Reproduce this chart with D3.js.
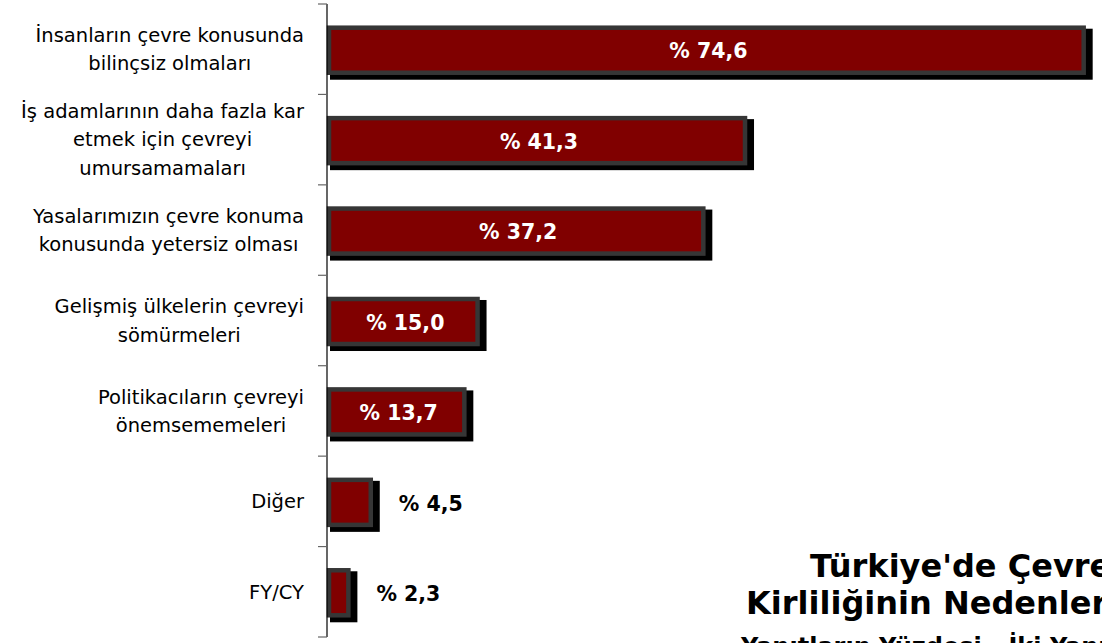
<!DOCTYPE html>
<html>
<head>
<meta charset="utf-8">
<script src="https://cdn.jsdelivr.net/npm/d3@7"></script>
<style>
  html, body { margin: 0; padding: 0; background: #fff; overflow: hidden; }
  svg { display: block; }
  .cat { font-family: Tahoma, "DejaVu Sans", sans-serif; font-size: 19.5px; fill: #000; }
  .val { font-family: Tahoma, "DejaVu Sans", sans-serif; font-weight: bold; font-size: 20.5px; }
  .title { font-family: Tahoma, "DejaVu Sans", sans-serif; font-weight: bold; fill: #000; }
</style>
</head>
<body>
<div id="chart"></div>
<script>
// Causes of environmental pollution in Turkey (% of answers)
const categories = [
  ['İnsanların çevre konusunda', 'bilinçsiz olmaları'],
  ['İş adamlarının daha fazla kar', 'etmek için çevreyi', 'umursamamaları'],
  ['Yasalarımızın çevre konuma', 'konusunda yetersiz olması'],
  ['Gelişmiş ülkelerin çevreyi', 'sömürmeleri'],
  ['Politikacıların çevreyi', 'önemsememeleri'],
  ['Diğer'],
  ['FY/CY']
];
const values = [74.6, 41.3, 37.2, 15.0, 13.7, 4.5, 2.3];
const valueLabels = ['% 74,6', '% 41,3', '% 37,2', '% 15,0', '% 13,7', '% 4,5', '% 2,3'];
const titleLines = ["Türkiye'de Çevre", 'Kirliliğinin Nedenleri', 'Yanıtların Yüzdesi - İki Yanıt'];

const width = 1102, height = 643;
const axisX = 327;

const svg = d3.select('#chart').append('svg')
  .attr('width', width)
  .attr('height', height);

const idx = d3.range(categories.length);

const x = d3.scaleLinear()
  .domain([0, 80])
  .range([axisX, axisX + 80 * 10.17]);

const y = d3.scaleBand()
  .domain(idx)
  .range([4, 637])
  .paddingInner(0.48)
  .paddingOuter(0.24);

const gap = (y.step() - y.bandwidth()) / 2;

// shadows
svg.append('g').selectAll('rect')
  .data(idx)
  .join('rect')
  .attr('x', d => x(0) + 5)
  .attr('y', d => y(d) + 5)
  .attr('width', d => x(values[d]) - x(0))
  .attr('height', y.bandwidth())
  .attr('fill', '#000')
  .attr('stroke', '#000')
  .attr('stroke-width', 4);

// bars
svg.append('g').selectAll('rect')
  .data(idx)
  .join('rect')
  .attr('x', d => x(0) + 2)
  .attr('y', d => y(d) + 2)
  .attr('width', d => x(values[d]) - x(0) - 4)
  .attr('height', y.bandwidth() - 2)
  .attr('fill', '#800000')
  .attr('stroke', '#363636')
  .attr('stroke-width', 4.5);

// axis line and ticks
const tickYs = idx.map(d => y(d) - gap).concat([y(idx.length - 1) + y.bandwidth() + gap]);
svg.append('line')
  .attr('x1', axisX).attr('x2', axisX)
  .attr('y1', tickYs[0]).attr('y2', tickYs[tickYs.length - 1])
  .attr('stroke', '#000').attr('stroke-width', 1.2);
svg.append('g').selectAll('line')
  .data(tickYs)
  .join('line')
  .attr('x1', axisX - 9).attr('x2', axisX)
  .attr('y1', d => d).attr('y2', d => d)
  .attr('stroke', '#666').attr('stroke-width', 1.2);

// category labels: block right-aligned, lines centered inside block
const lineH = 28.5;
const catG = svg.append('g').selectAll('g')
  .data(idx)
  .join('g');

catG.each(function(d) {
  const g = d3.select(this);
  const lines = categories[d];
  const cy = y(d) + y.bandwidth() / 2;
  const t = g.append('text').attr('class', 'cat').attr('text-anchor', 'middle');
  lines.forEach((ln, i) => {
    t.append('tspan')
      .attr('y', cy + (i - (lines.length - 1) / 2) * lineH)
      .attr('dy', '0.35em')
      .text(ln);
  });
  let maxW = 0;
  t.selectAll('tspan').each(function() {
    maxW = Math.max(maxW, this.getComputedTextLength());
  });
  t.selectAll('tspan').attr('x', 304 - maxW / 2);
});

// value labels
svg.append('g').selectAll('text')
  .data(idx)
  .join('text')
  .attr('class', 'val')
  .attr('x', d => values[d] >= 10 ? (x(0) + x(values[d])) / 2 + 2 : x(values[d]) + 26)
  .attr('y', d => y(d) + y.bandwidth() / 2 + 2)
  .attr('dy', '0.35em')
  .attr('text-anchor', d => values[d] >= 10 ? 'middle' : 'start')
  .attr('fill', d => values[d] >= 10 ? '#fff' : '#000')
  .text(d => valueLabels[d]);

// title (cut off at the right edge, as in the source)
const title = svg.append('g');
title.append('text').attr('class', 'title')
  .attr('x', 810).attr('y', 577).attr('font-size', 32)
  .text(titleLines[0]);
title.append('text').attr('class', 'title')
  .attr('x', 746).attr('y', 614).attr('font-size', 32)
  .text(titleLines[1]);
title.append('text').attr('class', 'title')
  .attr('x', 741).attr('y', 655).attr('font-size', 24)
  .text(titleLines[2]);
</script>
</body>
</html>
